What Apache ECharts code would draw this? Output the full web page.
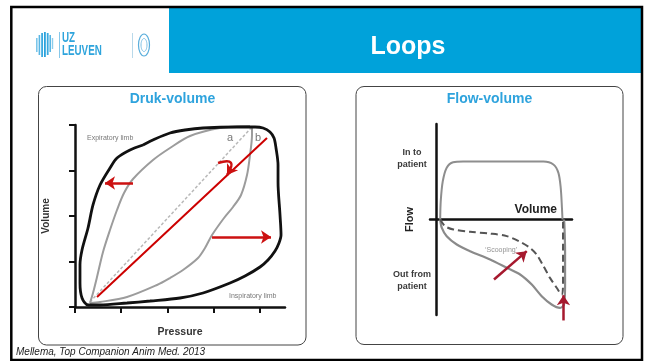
<!DOCTYPE html>
<html>
<head>
<meta charset="utf-8">
<script src="https://cdn.jsdelivr.net/npm/echarts@6/dist/echarts.min.js"></script>
<style>
  html, body { margin: 0; padding: 0; background: #fff; }
  #chart { width: 646px; height: 361px; }
</style>
</head>
<body>
<div id="chart"></div>
<script>
// druk-volume (pressure-volume) loop, left panel
const pvTicks = [0, 1, 2, 3, 4];
const pvOuter = [
  [1.473, 3.560], [1.733, 3.692], [2.058, 3.824], [2.384, 3.890], [2.774, 3.934],
  [3.510, 3.956], [3.900, 3.956], [4.074, 3.934], [4.225, 3.846], [4.312, 3.714],
  [4.355, 3.495], [4.399, 3.121], [4.399, 2.747], [4.442, 2.022], [4.464, 1.582],
  [4.420, 1.407], [4.334, 1.231], [4.182, 1.033], [4.009, 0.879], [3.684, 0.681],
  [3.359, 0.527], [2.774, 0.308], [2.275, 0.198], [1.625, 0.132], [1.127, 0.088],
  [0.542, 0.044], [0.282, 0.044], [0.152, 0.198], [0.108, 0.527], [0.108, 0.923],
  [0.152, 1.253], [0.282, 1.736], [0.390, 2.242], [0.542, 2.681], [0.758, 3.055],
  [0.910, 3.275], [1.192, 3.451], [1.473, 3.560]
];
const pvExpLimb = [
  [0.325, 0.088], [0.390, 0.308], [0.477, 0.659], [0.607, 1.209], [0.758, 1.692],
  [0.910, 2.132], [1.062, 2.505], [1.257, 2.813], [1.690, 3.231], [2.058, 3.495],
  [2.492, 3.758], [3.142, 3.934], [3.792, 3.978]
];
const pvInspLimb = [
  [0.325, 0.088], [0.542, 0.110], [1.127, 0.220], [1.777, 0.484], [2.058, 0.637],
  [2.340, 0.813], [2.665, 1.077], [2.817, 1.297], [2.969, 1.582], [3.229, 1.956],
  [3.424, 2.198], [3.597, 2.462], [3.727, 2.901], [3.792, 3.341], [3.835, 3.780],
  [3.835, 3.956]
];
const pvDiagonal = [[0.325, 0.110], [3.835, 3.956]];
const pvCompliance = [[0.477, 0.220], [4.160, 3.714]];
const pvArrows = [
  [[1.257, 2.725], [0.650, 2.725]],
  [[2.969, 1.538], [4.247, 1.538]],
  [[3.099, 3.165], [3.294, 2.901]]
];
const pvArrowBend = [0, 0, 1.4];
const pvTextNames = ['Expiratory limb', 'Inspiratory limb'];
const pvTextPos = [[0.26, 3.714], [3.337, 0.242]];
const pvLetters = ['a', 'b'];
const pvLetterPos = [[3.359, 3.714], [3.965, 3.714]];

// flow-volume loop, right panel
const fvInsp = [
  [0.30, 0], [0.34, 1.34], [0.49, 2.80], [0.78, 3.80], [1.25, 4.20], [1.98, 4.25],
  [7.90, 4.25], [8.63, 4.03], [9.00, 3.42], [9.17, 2.32], [9.26, 0.86], [9.30, 0]
];
const fvExp = [
  [0.30, 0], [0.42, -0.61], [0.78, -1.22], [1.52, -1.83], [2.50, -2.32], [3.97, -2.93],
  [5.20, -3.54], [6.18, -4.03], [7.04, -4.77], [7.77, -5.62], [8.50, -6.23], [9.12, -6.48],
  [9.41, -6.23], [9.49, -4.77], [9.49, -2.32], [9.44, -0.37], [9.41, 0]
];
const fvScooped = [
  [0.30, 0], [0.66, -0.49], [1.27, -0.73], [2.50, -0.90], [3.97, -1.03], [5.20, -1.22],
  [6.18, -1.64], [6.91, -2.08], [7.40, -2.57], [7.90, -3.42], [8.38, -4.28], [8.87, -5.00],
  [9.24, -5.50], [9.34, -4.77], [9.34, 0]
];
const fvArrows = [
  [[4.26, -4.40], [6.67, -2.32]],
  [[9.37, -7.40], [9.37, -5.55]]
];
const fvArrowBend = [0, 0];
const fvTickValues = [4.47, -4.47];
const fvTickLabels = ['In to\npatient', 'Out from\npatient'];
const fvNote = ['\u2018Scooping\u2019'];
const fvNotePos = [[4.78, -2.27]];

const chart = echarts.init(document.getElementById('chart'));

const inkAxis = { lineStyle: { color: '#111', width: 2.5 } };
const nameFont = { fontFamily: 'Liberation Sans', fontWeight: 'bold', color: '#333' };

const curve = (data, color, width, extra) => Object.assign({
  type: 'line', data: data, showSymbol: false, symbol: 'none', smooth: 0.3,
  lineStyle: { color: color, width: width }, silent: true, animation: false
}, extra);

// straight (or bent) arrows, one lines item per arrow
const arrows = (list, bends, color, gi) => ({
  type: 'lines', coordinateSystem: 'cartesian2d', xAxisIndex: gi, yAxisIndex: gi,
  clip: false, symbol: ['none', 'arrow'], symbolSize: 10,
  lineStyle: { color: color, width: 2.5, opacity: 1 },
  data: list.map((c, i) => ({ coords: c, lineStyle: { curveness: bends[i] } })),
  animation: false, silent: true, z: 5
});

const texts = (names, pos, gi, style) => ({
  type: 'scatter', xAxisIndex: gi, yAxisIndex: gi, symbolSize: 0, clip: false,
  data: names.map((n, i) => ({ name: n, value: pos[i] })),
  label: Object.assign({ show: true, position: 'inside', formatter: '{b}' }, style),
  silent: true, animation: false
});

const option = {
  animation: false,
  grid: [
    { left: 75, top: 125, width: 210, height: 182 },
    { left: 430, top: 124, width: 142, height: 191 }
  ],
  xAxis: [
    {
      type: 'value', gridIndex: 0, min: 0, max: 4.55, interval: 1,
      axisLine: inkAxis,
      axisTick: { show: true, length: 6, customValues: pvTicks, lineStyle: { color: '#111', width: 2 } },
      axisLabel: { show: false }, splitLine: { show: false },
      name: 'Pressure', nameLocation: 'middle', nameGap: 20,
      nameTextStyle: Object.assign({ fontSize: 10.5 }, nameFont)
    },
    {
      type: 'value', gridIndex: 1, min: -0.45, max: 10,
      axisLine: inkAxis, axisTick: { show: false },
      axisLabel: { show: false }, splitLine: { show: false },
      name: 'Volume', nameLocation: 'end', nameGap: -15,
      nameTextStyle: Object.assign({ fontSize: 12, align: 'right', verticalAlign: 'bottom', padding: [0, 0, 4, 0] }, nameFont, { color: '#222' })
    }
  ],
  yAxis: [
    {
      type: 'value', gridIndex: 0, min: 0, max: 4, interval: 1,
      axisLine: inkAxis,
      axisTick: { show: true, length: 6, customValues: pvTicks, lineStyle: { color: '#111', width: 2 } },
      axisLabel: { show: false }, splitLine: { show: false },
      name: 'Volume', nameLocation: 'middle', nameRotate: 90, nameGap: 24,
      nameTextStyle: Object.assign({ fontSize: 10 }, nameFont)
    },
    {
      type: 'value', gridIndex: 1, min: -7, max: 7,
      axisLine: inkAxis, axisTick: { show: false }, splitLine: { show: false },
      axisLabel: {
        show: true, customValues: fvTickValues, margin: 18, align: 'center',
        formatter: v => (v > 0 ? fvTickLabels[0] : fvTickLabels[1]),
        fontFamily: 'Liberation Sans', fontWeight: 'bold', fontSize: 9, lineHeight: 12, color: '#3a3a3a'
      },
      name: 'Flow', nameLocation: 'middle', nameRotate: 90, nameGap: 15, nameMoveOverlap: false,
      nameTextStyle: Object.assign({ fontSize: 11 }, nameFont, { color: '#222' })
    }
  ],
  series: [
    curve(pvDiagonal, '#b8b8b8', 1.5, { xAxisIndex: 0, yAxisIndex: 0, smooth: false, lineStyle: { color: '#b8b8b8', width: 1.5, type: [3, 2] } }),
    curve(pvExpLimb, '#9c9c9c', 2, { xAxisIndex: 0, yAxisIndex: 0 }),
    curve(pvInspLimb, '#9c9c9c', 2, { xAxisIndex: 0, yAxisIndex: 0 }),
    curve(pvOuter, '#111', 2.8, { xAxisIndex: 0, yAxisIndex: 0 }),
    curve(pvCompliance, '#cc0000', 2, { xAxisIndex: 0, yAxisIndex: 0, smooth: false, z: 4 }),
    arrows(pvArrows, pvArrowBend, '#cc1111', 0),
    texts(pvTextNames, pvTextPos, 0, { align: 'left', fontFamily: 'Liberation Sans', fontSize: 7, color: '#555' }),
    texts(pvLetters, pvLetterPos, 0, { align: 'center', fontFamily: 'Liberation Sans', fontSize: 11, color: '#555' }),

    curve(fvInsp, '#8e8e8e', 2, { xAxisIndex: 1, yAxisIndex: 1 }),
    curve(fvExp, '#8a8a8a', 2.2, { xAxisIndex: 1, yAxisIndex: 1 }),
    curve(fvScooped, '#555', 2, { xAxisIndex: 1, yAxisIndex: 1, lineStyle: { color: '#555', width: 2, type: [7, 4] } }),
    arrows(fvArrows, fvArrowBend, '#a6192e', 1),
    texts(fvNote, fvNotePos, 1, { align: 'center', fontFamily: 'Liberation Sans', fontSize: 7, color: '#777' })
  ],
  graphic: [
    // slide frame and header
    { type: 'rect', shape: { x: 169, y: 8, width: 473, height: 65 }, style: { fill: '#00a2da' }, silent: true },
    { type: 'rect', shape: { x: 11.3, y: 7, width: 630.7, height: 353 }, style: { fill: null, stroke: '#000', lineWidth: 2.5 }, silent: true },
    { type: 'text', x: 408, y: 47, style: { text: 'Loops', fill: '#fff', font: 'bold 25px "Liberation Sans", sans-serif', align: 'center', verticalAlign: 'middle' } },
    // logo
    { type: 'group', children: [
      { type: 'rect', shape: { x: 36, y: 38, width: 1.6, height: 14 }, style: { fill: '#7cc6ea' } },
      { type: 'rect', shape: { x: 38.6, y: 35, width: 1.6, height: 20 }, style: { fill: '#59b6e4' } },
      { type: 'rect', shape: { x: 41.2, y: 33, width: 1.8, height: 24 }, style: { fill: '#3aa9df' } },
      { type: 'rect', shape: { x: 44, y: 32, width: 1.8, height: 25 }, style: { fill: '#2aa2dc' } },
      { type: 'rect', shape: { x: 46.8, y: 33, width: 1.8, height: 22 }, style: { fill: '#3aa9df' } },
      { type: 'rect', shape: { x: 49.4, y: 35, width: 1.6, height: 17 }, style: { fill: '#59b6e4' } },
      { type: 'rect', shape: { x: 51.8, y: 38, width: 1.4, height: 11 }, style: { fill: '#8ccdec' } },
      { type: 'line', shape: { x1: 59.5, y1: 32, x2: 59.5, y2: 58 }, style: { stroke: '#86c8ea', lineWidth: 1 } },
      { type: 'text', x: 62, y: 38, scaleX: 0.7, originX: 0, style: { text: 'UZ', fill: '#2ea4dc', font: 'bold 14px "Liberation Sans", sans-serif', verticalAlign: 'middle' } },
      { type: 'text', x: 62, y: 51.5, scaleX: 0.7, originX: 0, style: { text: 'LEUVEN', fill: '#2ea4dc', font: 'bold 14px "Liberation Sans", sans-serif', verticalAlign: 'middle' } },
      { type: 'line', shape: { x1: 132.5, y1: 33, x2: 132.5, y2: 58 }, style: { stroke: '#b9d9ea', lineWidth: 1 } },
      { type: 'ellipse', shape: { cx: 144, cy: 45, rx: 5.5, ry: 11 }, style: { fill: null, stroke: '#5aaedc', lineWidth: 1.2 } },
      { type: 'ellipse', shape: { cx: 144, cy: 45, rx: 3, ry: 6.5 }, style: { fill: null, stroke: '#7fc0e4', lineWidth: 1 } }
    ] },
    // panels
    { type: 'rect', shape: { x: 38.5, y: 86.5, width: 267.5, height: 258.5, r: 8 }, style: { fill: null, stroke: '#444', lineWidth: 1 }, silent: true },
    { type: 'rect', shape: { x: 356, y: 86.5, width: 267, height: 258, r: 8 }, style: { fill: null, stroke: '#444', lineWidth: 1 }, silent: true },
    { type: 'text', x: 172.5, y: 99, style: { text: 'Druk-volume', fill: '#2ea3dd', font: 'bold 14px "Liberation Sans", sans-serif', align: 'center', verticalAlign: 'middle' } },
    { type: 'text', x: 489.5, y: 99, style: { text: 'Flow-volume', fill: '#2ea3dd', font: 'bold 14px "Liberation Sans", sans-serif', align: 'center', verticalAlign: 'middle' } },
    { type: 'text', x: 16, y: 352, style: { text: 'Mellema, Top Companion Anim Med. 2013', fill: '#222', font: 'italic 10px "Liberation Sans", sans-serif', verticalAlign: 'middle' } }
  ]
};

chart.setOption(option);
</script>
</body>
</html>
